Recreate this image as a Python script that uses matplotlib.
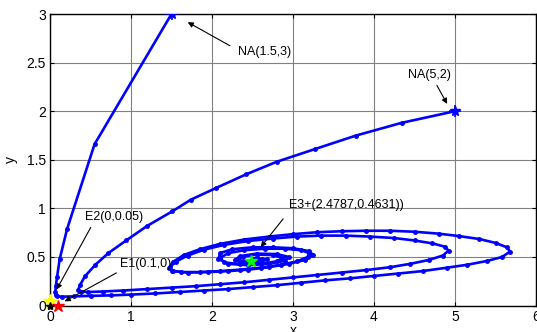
import matplotlib
matplotlib.use('Agg')
import matplotlib.pyplot as plt

plt.rcParams['font.family'] = ['Liberation Sans', 'DejaVu Sans']

# trajectory starting at NA(1.5,3) (outer spiral)
xa = [1.5, 0.55, 0.21, 0.12, 0.086, 0.072, 0.066, 0.068, 0.09, 0.15,
      0.3, 0.5, 0.75, 1.0, 1.3, 1.6, 1.9, 2.2, 2.5, 2.8,
      3.1, 3.4, 3.7, 4.0, 4.3, 4.6, 4.9, 5.15, 5.4, 5.58,
      5.68, 5.64, 5.5, 5.3, 5.05, 4.8, 4.5, 4.2, 3.9, 3.6,
      3.3, 3.0, 2.7, 2.4, 2.1, 1.85, 1.65, 1.52, 1.47, 1.52,
      1.7, 1.95, 2.2, 2.45, 2.7, 2.95, 3.15, 3.25, 3.2, 3.0,
      2.75, 2.5, 2.25, 2.1, 2.08, 2.2, 2.45, 2.7, 2.9, 2.95,
      2.8, 2.55, 2.35, 2.28, 2.4, 2.6, 2.68, 2.55, 2.4787]
ya = [3.0, 1.66, 0.785, 0.48, 0.29, 0.2, 0.14, 0.11, 0.095, 0.092,
      0.095, 0.1, 0.105, 0.113, 0.125, 0.14, 0.155, 0.17, 0.19, 0.21,
      0.235, 0.26, 0.28, 0.305, 0.33, 0.355, 0.39, 0.42, 0.46, 0.5,
      0.555, 0.6, 0.645, 0.685, 0.715, 0.74, 0.76, 0.77, 0.77, 0.765,
      0.755, 0.735, 0.71, 0.68, 0.635, 0.58, 0.52, 0.45, 0.39, 0.355,
      0.34, 0.345, 0.355, 0.37, 0.395, 0.43, 0.47, 0.52, 0.56, 0.59,
      0.6, 0.6, 0.58, 0.54, 0.48, 0.43, 0.415, 0.43, 0.46, 0.5,
      0.53, 0.535, 0.51, 0.47, 0.445, 0.45, 0.475, 0.485, 0.4631]

# trajectory starting at NA(5,2) (inner spiral)
xb = [5.0, 4.34, 3.78, 3.27, 2.80, 2.42, 2.05, 1.74, 1.51, 1.2,
      0.94, 0.72, 0.56, 0.43, 0.37, 0.35, 0.38, 0.47, 0.65, 0.9,
      1.2, 1.5, 1.8, 2.1, 2.4, 2.7, 3.0, 3.3, 3.6, 3.9,
      4.2, 4.45, 4.68, 4.85, 4.92, 4.88, 4.72, 4.5, 4.25, 3.95,
      3.65, 3.35, 3.05, 2.75, 2.45, 2.15, 1.9, 1.7, 1.55, 1.48,
      1.5, 1.62, 1.85, 2.1, 2.35, 2.6, 2.85, 3.05, 3.18, 3.2,
      3.1, 2.9, 2.65, 2.4, 2.2, 2.1, 2.15, 2.35, 2.6, 2.8,
      2.88, 2.75, 2.55, 2.38, 2.32, 2.42, 2.58, 2.62, 2.52, 2.4787]
yb = [2.0, 1.88, 1.75, 1.61, 1.48, 1.35, 1.21, 1.09, 0.97, 0.82,
      0.67, 0.54, 0.42, 0.30, 0.21, 0.165, 0.145, 0.14, 0.145, 0.155,
      0.17, 0.185, 0.2, 0.22, 0.24, 0.265, 0.29, 0.315, 0.34, 0.365,
      0.395, 0.43, 0.47, 0.515, 0.565, 0.605, 0.64, 0.67, 0.695, 0.71,
      0.72, 0.72, 0.71, 0.69, 0.665, 0.625, 0.575, 0.515, 0.45, 0.395,
      0.36, 0.345, 0.345, 0.355, 0.37, 0.39, 0.42, 0.455, 0.5, 0.54,
      0.57, 0.585, 0.585, 0.57, 0.54, 0.49, 0.445, 0.425, 0.43, 0.455,
      0.49, 0.52, 0.525, 0.505, 0.47, 0.45, 0.455, 0.475, 0.48, 0.4631]

# equilibria / start points
starts = [(1.5, 3.0), (5.0, 2.0)]
E0 = (0.0, 0.0)
E1 = (0.1, 0.0)
E2 = (0.0, 0.05)
E3 = (2.4787, 0.4631)

assert len(xa) == len(ya) and len(xb) == len(yb)

fig = plt.figure(figsize=(5.37, 3.32), dpi=100)
ax = fig.add_axes([50 / 537, 26.4 / 332, 486 / 537, 291.6 / 332])

blue = '#0000ff'
for xs, ys in [(xa, ya), (xb, yb)]:
    ax.plot(xs, ys, color=blue, lw=1.9, marker='.', ms=5, zorder=3)

for sx, sy in starts:
    ax.plot(sx, sy, marker='*', color=blue, ms=7, zorder=4)
    ax.plot(sx, sy, marker='+', color=blue, ms=8, mew=1.2, zorder=4)

ax.plot(*E2, marker='*', color='#ffff00', ms=10, zorder=5, clip_on=False)
ax.plot(*E1, marker='*', color='#ff0000', ms=9, zorder=5, clip_on=False)
ax.plot(*E0, marker='*', color='black', ms=6, zorder=5, clip_on=False)
ax.plot(*E3, marker='*', color='#00ff00', ms=9, zorder=5)

fs = 9
arrow = dict(arrowstyle='-|>', color='black', lw=0.8, mutation_scale=8)
ax.annotate('', xy=(1.67, 2.93), xytext=(2.25, 2.66), arrowprops=arrow)
ax.text(2.32, 2.61, 'NA(1.5,3)', fontsize=fs, va='center', ha='left')
ax.annotate('', xy=(4.92, 2.05), xytext=(4.76, 2.29), arrowprops=arrow)
ax.text(4.69, 2.37, 'NA(5,2)', fontsize=fs, va='center', ha='center')
ax.annotate('', xy=(0.065, 0.14), xytext=(0.52, 0.83), arrowprops=arrow)
ax.text(0.43, 0.915, 'E2(0,0.05)', fontsize=fs, va='center', ha='left')
ax.annotate('', xy=(0.15, 0.03), xytext=(0.85, 0.35), arrowprops=arrow)
ax.text(0.86, 0.43, 'E1(0.1,0)', fontsize=fs, va='center', ha='left')
ax.annotate('', xy=(2.58, 0.58), xytext=(2.9, 0.915), arrowprops=arrow)
ax.text(2.95, 1.035, 'E3+(2.4787,0.4631))', fontsize=fs, va='center', ha='left')

ax.set_xlim(0, 6)
ax.set_ylim(0, 3)
ax.set_xticks(range(0, 7))
ax.set_yticks([0, 0.5, 1, 1.5, 2, 2.5, 3])
ax.set_yticklabels(['0', '0.5', '1', '1.5', '2', '2.5', '3'])
ax.tick_params(direction='in', length=3, labelsize=10, top=True, right=True, pad=3)
ax.grid(True, color='0.5', lw=0.8)
ax.set_axisbelow(True)
for s in ax.spines.values():
    s.set_linewidth(1.0)
ax.set_xlabel('x', fontsize=10, labelpad=0)
ax.set_ylabel('y', fontsize=10, labelpad=6)

fig.savefig('out.png', dpi=100)
